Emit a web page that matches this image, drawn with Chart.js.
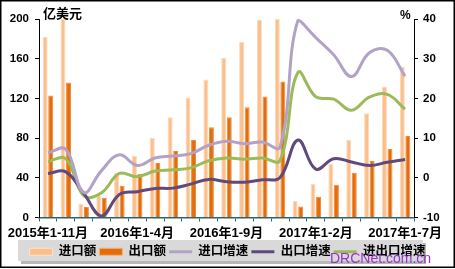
<!DOCTYPE html>
<html><head><meta charset="utf-8">
<script src="https://cdn.jsdelivr.net/npm/chart.js@4"></script>
<style>html,body{margin:0;padding:0;background:#fff;}canvas{display:block;}</style>
</head><body>
<canvas id="c" width="455" height="269"></canvas>
<script>
const categories = ["2015年1-11月","2015年1-12月","2016年1月","2016年1-2月","2016年1-3月","2016年1-4月","2016年1-5月","2016年1-6月","2016年1-7月","2016年1-8月","2016年1-9月","2016年1-10月","2016年1-11月","2016年1-12月","2017年1月","2017年1-2月","2017年1-3月","2017年1-4月","2017年1-5月","2017年1-6月","2017年1-7月"];
const importAmount = [182, 200, 14, 22, 45, 62, 80, 101, 121, 139, 161, 177, 199, 200, 17, 34, 54, 78, 105, 132, 152];
const exportAmount = [123, 136, 10.5, 20, 32, 44, 55, 67, 78, 91, 101, 111, 122, 137, 11, 21, 33, 45, 57, 69, 82];
const importGrowth = [6.3, 7.2, -3.7, 1.8, 5.8, 3.1, 5.0, 5.5, 6.1, 8.2, 9.2, 8.6, 9.0, 7.8, 39.6, 35.3, 31.0, 25.5, 31.5, 32.1, 25.6];
const exportGrowth = [1.1, 1.5, -3.9, -9.6, -4.2, -3.5, -2.7, -2.6, -1.6, -0.4, -1.0, -1.1, -0.5, 0.1, 9.5, 2.2, 4.8, 4.0, 3.1, 3.9, 4.6];
const totalGrowth = [4.1, 4.8, -4.5, -3.8, 1.1, 0.3, 1.7, 2.0, 2.5, 4.3, 5.0, 4.7, 5.0, 4.4, 26.5, 20.4, 19.8, 17.0, 20.3, 21.0, 17.3];
const leftTicks = [0, 40, 80, 120, 160, 200];
const rightTicks = [-10, 0, 10, 20, 30, 40];
const labelEvery = 5;

const FONT = "'Liberation Sans', 'Noto Sans CJK SC', Arial, sans-serif";

const decor = {
  id: 'decor',
  beforeDraw(chart) {
    const ctx = chart.ctx;
    ctx.save();
    ctx.fillStyle = '#ffffff';
    ctx.fillRect(0, 0, chart.width, chart.height);
    ctx.fillStyle = 'rgba(0,0,0,0.28)';
    ctx.fillRect(21, 243, 405, 21);
    ctx.fillStyle = '#d9d9d9';
    ctx.fillRect(18, 240, 405, 21);
    ctx.restore();
  },
  afterDraw(chart) {
    const ctx = chart.ctx;
    ctx.save();
    ctx.fillStyle = '#000';
    ctx.font = "bold 13px " + FONT;
    ctx.textBaseline = 'alphabetic';
    ctx.textAlign = 'left';
    ctx.fillText('亿美元', 43, 18);
    ctx.font = "bold 12px " + FONT;
    ctx.fillText('%', 400, 19);
    ctx.font = "14px " + FONT;
    ctx.fillStyle = '#9932cc';
    ctx.fillText('DRCNet.com.cn', 330, 263);
    ctx.strokeStyle = '#000';
    ctx.lineWidth = 1.5;
    ctx.strokeRect(0.75, 0.75, 453.5, 266.5);
    ctx.restore();
  }
};

const ctx = document.getElementById('c').getContext('2d');
new Chart(ctx, {
  data: {
    labels: categories,
    datasets: [
      {type:'bar', label:'进口额', data: importAmount, yAxisID:'y', backgroundColor:'#fbbf8c', borderColor:'#fdd9bb', borderWidth:1, order:2, legendStroke:'#fde3cc'},
      {type:'bar', label:'出口额', data: exportAmount, yAxisID:'y', backgroundColor:'#e46c0a', borderColor:'#f08a3a', borderWidth:1, order:2, legendStroke:'#f7b27a'},
      {type:'line', label:'进口增速', data: importGrowth, yAxisID:'y1', borderColor:'#b3a2c7', backgroundColor:'#b3a2c7', borderWidth:3, pointRadius:0, tension:0.4, order:1},
      {type:'line', label:'出口增速', data: exportGrowth, yAxisID:'y1', borderColor:'#604a7b', backgroundColor:'#604a7b', borderWidth:3, pointRadius:0, tension:0.4, order:1},
      {type:'line', label:'进出口增速', data: totalGrowth, yAxisID:'y1', borderColor:'#9bbb59', backgroundColor:'#9bbb59', borderWidth:3, pointRadius:0, tension:0.4, order:1}
    ]
  },
  options: {
    responsive: false,
    animation: false,
    devicePixelRatio: 1,
    layout: {padding: {left:0, right:0, top:19, bottom:1}},
    datasets: {bar: {categoryPercentage: 0.62, barPercentage: 0.9}},
    plugins: {
      tooltip: {enabled:false},
      legend: {
        position: 'bottom',
        labels: {
          usePointStyle: true,
          pointStyleWidth: 23,
          boxWidth: 23,
          boxHeight: 7,
          padding: 3,
          color: '#000',
          font: {family: FONT, size: 12.5, weight: 'bold'},
          generateLabels(chart) {
            return chart.data.datasets.map((ds, i) => ({
              text: ds.label,
              fillStyle: ds.type === 'line' ? ds.borderColor : ds.backgroundColor,
              strokeStyle: ds.type === 'line' ? ds.borderColor : ds.legendStroke,
              lineWidth: ds.type === 'line' ? 3 : 1,
              pointStyle: ds.type === 'line' ? 'line' : 'rect',
              hidden: false,
              datasetIndex: i,
              fontColor: '#000'
            }));
          }
        }
      }
    },
    scales: {
      x: {
        offset: true,
        grid: {display:true, drawOnChartArea:false, drawTicks:true, tickLength:4, color:'#2a6472', offset:true},
        border: {display:true, color:'#2a6472', width:1.5},
        ticks: {
          autoSkip:false, maxRotation:0, minRotation:0, padding:4, color:'#000',
          font: {family: FONT, size: 13, weight:'bold'},
          callback: (v, i) => (i % labelEvery === 0 ? categories[i] : '')
        },
        afterFit(s) { s.height = 25; }
      },
      y: {
        position:'left', min: leftTicks[0], max: leftTicks[leftTicks.length-1],
        afterBuildTicks(s) { s.ticks = leftTicks.map(v => ({value: v})); },
        grid: {display:true, drawOnChartArea:false, tickLength:4, color:'#000'},
        border: {display:true, color:'#000', width:1},
        ticks: {padding:6, color:'#000', font:{family: FONT, size: 11.5, weight:'bold'}},
        afterFit(s) { s.width = 39; }
      },
      y1: {
        position:'right', min: rightTicks[0], max: rightTicks[rightTicks.length-1],
        afterBuildTicks(s) { s.ticks = rightTicks.map(v => ({value: v})); },
        grid: {display:true, drawOnChartArea:false, tickLength:4, color:'#000'},
        border: {display:true, color:'#000', width:1},
        ticks: {padding:5, color:'#000', font:{family: FONT, size: 11.5, weight:'bold'}},
        afterFit(s) { s.width = 41; }
      }
    }
  },
  plugins: [decor]
});
</script>
</body></html>
